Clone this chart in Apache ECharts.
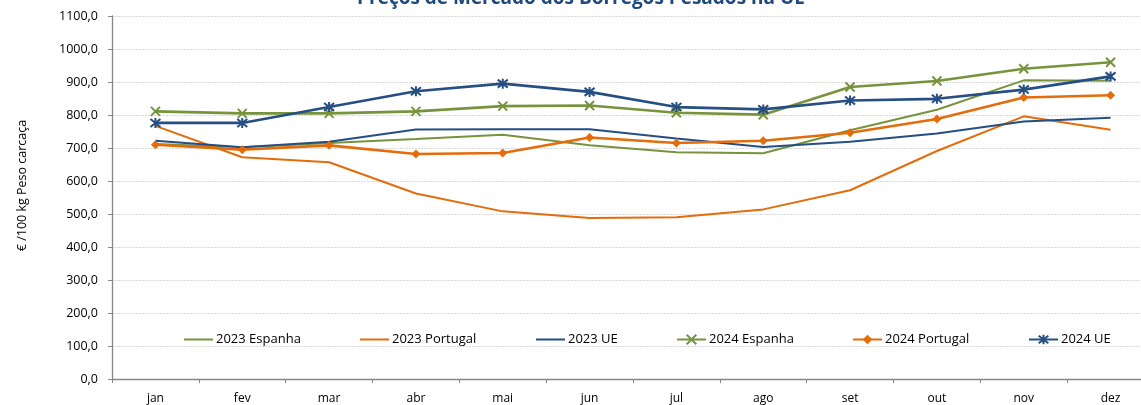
<!DOCTYPE html>
<html>
<head>
<meta charset="utf-8">
<script src="https://cdn.jsdelivr.net/npm/echarts@6/dist/echarts.min.js"></script>
<style>
html,body{margin:0;padding:0;background:#fff;overflow:hidden;width:1141px;height:405px;}
#c{width:1154px;height:405px;}
</style>
</head>
<body>
<div id="c"></div>
<script>
const months = ['jan','fev','mar','abr','mai','jun','jul','ago','set','out','nov','dez'];
const esp2023 = [712, 702, 715, 727, 740, 708, 687, 684, 754, 816, 905, 904];
const por2023 = [767, 672, 657, 562, 508, 488, 490, 514, 572, 691, 796, 755];
const ue2023  = [722, 702, 719, 756, 757, 757, 729, 703, 719, 744, 780, 792];
const esp2024 = [811, 805, 805, 811, 827, 829, 807, 801, 885, 903, 940, 960];
const por2024 = [710, 695, 708, 682, 685, 732, 715, 722, 746, 788, 853, 860];
const ue2024  = [776, 776, 824, 872, 895, 870, 824, 817, 844, 849, 877, 917];
const seriesNames = ['2023 Espanha','2023 Portugal','2023 UE','2024 Espanha','2024 Portugal','2024 UE'];

const GREEN = '#77933C', ORANGE = '#E46C0A', BLUE = '#254E83';
const FONT = "'Open Sans', 'Noto Sans', sans-serif";
const XSYM = 'path://M0,0L10,10M10,0L0,10';
const STAR = 'path://M0,1L10,9M10,1L0,9M5,0L5,10';

function plain(name, data, color, w) {
  return {name, type:'line', data, symbol:'none', showSymbol:false,
    lineStyle:{color, width:w}, itemStyle:{color}, z:2};
}
function marked(name, data, color, symbol, size, filled) {
  return {name, type:'line', data, symbol, symbolSize:size, showSymbol:true,
    lineStyle:{color, width:2.6},
    itemStyle:{color: color, borderColor: color, borderWidth: filled ? 0 : 2},
    z:3};
}
const legendX = [184, 360, 536, 676, 852, 1028];
const legends = seriesNames.map((n,i)=>{
  const isPlain = i < 3;
  return {
    data: isPlain ? [{name:n, icon:'rect'}] : [n],
    left: legendX[i], top: 333, padding:0,
    itemWidth: 29, itemHeight: isPlain ? 2 : 12,
    textStyle:{fontFamily:FONT, fontSize:13, color:'#000', padding:[0,0,0,-2]}
  };
});

const chart = echarts.init(document.getElementById('c'), null, {renderer:'canvas'});
chart.setOption({
  animation:false,
  backgroundColor:'#fff',
  title:{text:'Preços de Mercado dos Borregos Pesados na UE', left:581, textAlign:'center', top:-11, padding:0,
    textStyle:{fontFamily:FONT, fontSize:19, fontWeight:'bold', color:'#1F497D'}},
  legend: legends,
  grid:{left:112, right:0, top:16, bottom:24, containLabel:false},
  xAxis:{type:'category', data:months, boundaryGap:true,
    axisLine:{lineStyle:{color:'#868686', width:1.3}},
    axisTick:{show:true, length:4, lineStyle:{color:'#868686'}},
    axisLabel:{fontFamily:FONT, fontSize:12, color:'#000', margin:14}},
  yAxis:{type:'value', min:0, max:1100, interval:100,
    name:'€ /100 kg Peso carcaça', nameLocation:'middle', nameGap:83, nameRotate:90,
    nameTextStyle:{fontFamily:FONT, fontSize:12.5, color:'#000', padding:[0,0,0,24]},
    axisLine:{show:true, lineStyle:{color:'#868686', width:1.3}},
    axisTick:{show:true, length:4, lineStyle:{color:'#868686'}},
    axisLabel:{fontFamily:FONT, fontSize:12.5, color:'#000', margin:14,
      formatter: v => v.toFixed(1).replace('.', ',')},
    splitLine:{show:true, lineStyle:{color:'#D9D9D9', type:[2,1], width:1}}},
  series:[
    plain(seriesNames[0], esp2023, GREEN, 2),
    plain(seriesNames[1], por2023, ORANGE, 2),
    plain(seriesNames[2], ue2023, BLUE, 2),
    marked(seriesNames[3], esp2024, GREEN, XSYM, 9, false),
    marked(seriesNames[4], por2024, ORANGE, 'diamond', 9, true),
    marked(seriesNames[5], ue2024, BLUE, STAR, 10, false)
  ]
});
</script>
</body>
</html>
